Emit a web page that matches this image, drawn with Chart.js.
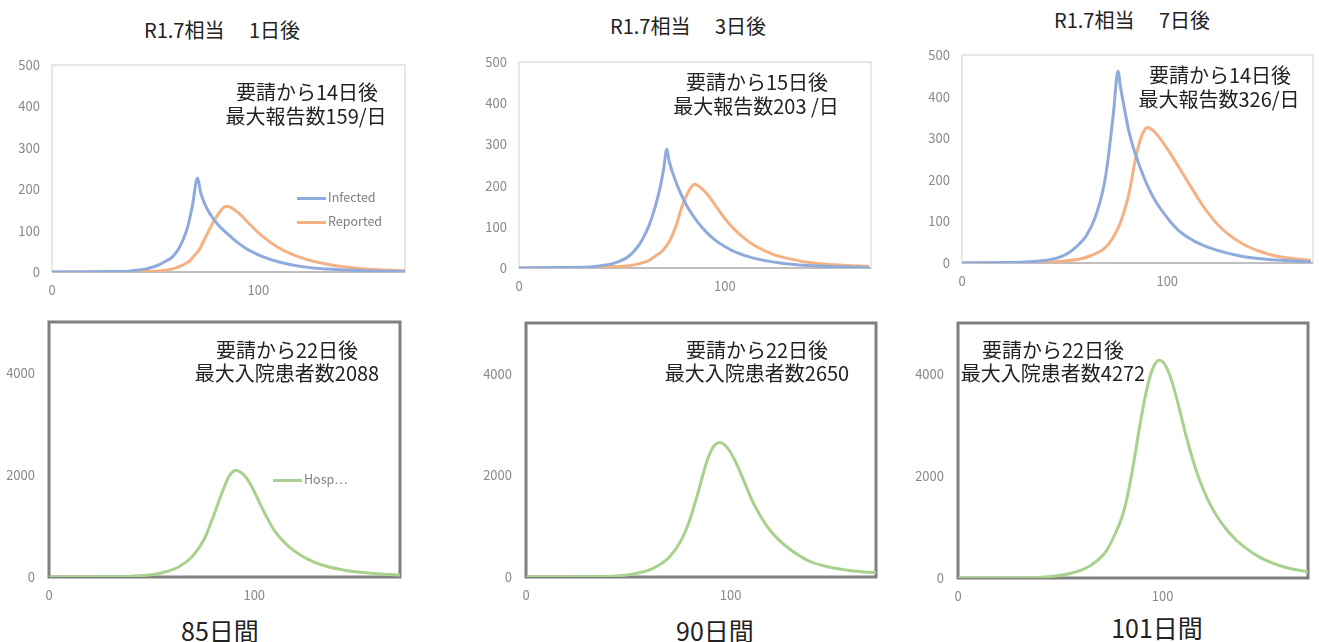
<!DOCTYPE html>
<html>
<head>
<meta charset="utf-8">
<script src="https://cdn.jsdelivr.net/npm/chart.js@4.4.1/dist/chart.umd.min.js"></script>
<style>
  body { margin: 0; width: 1319px; height: 642px; overflow: hidden; background: #fff;
         font-family: 'Noto Sans CJK JP', sans-serif; color: #222; }
  .box { position: absolute; }
  .txt { position: absolute; white-space: pre; transform: translate(-50%, -50%); line-height: 1; }
  .ttl { font-size: 20px; }
  .note { font-size: 20px; }
  .days { font-size: 25px; }
  .lg { position: absolute; font-size: 12.5px; color: #7f7f7f; white-space: pre; line-height: 1; }
  .lg i { display: inline-block; width: 29px; height: 3px; vertical-align: middle; margin-right: 2px; }
</style>
</head>
<body>

<div class="txt ttl" style="left:222px; top:30px;">R1.7相当　 1日後</div>
<div class="txt ttl" style="left:688px; top:26px;">R1.7相当　 3日後</div>
<div class="txt ttl" style="left:1132px; top:20px;">R1.7相当　 7日後</div>

<div class="box" id="b1"><canvas id="c1"></canvas></div>
<div class="box" id="b2"><canvas id="c2"></canvas></div>
<div class="box" id="b3"><canvas id="c3"></canvas></div>
<div class="box" id="b4"><canvas id="c4"></canvas></div>
<div class="box" id="b5"><canvas id="c5"></canvas></div>
<div class="box" id="b6"><canvas id="c6"></canvas></div>

<div class="txt note" style="left:307px; top:92px;">要請から14日後</div>
<div class="txt note" style="left:306px; top:116px;">最大報告数159/日</div>
<div class="txt note" style="left:757px; top:82px;">要請から15日後</div>
<div class="txt note" style="left:756px; top:106px;">最大報告数203 /日</div>
<div class="txt note" style="left:1220px; top:75px;">要請から14日後</div>
<div class="txt note" style="left:1219px; top:99px;">最大報告数326/日</div>

<div class="txt note" style="left:287px; top:350px;">要請から22日後</div>
<div class="txt note" style="left:287px; top:373px;">最大入院患者数2088</div>
<div class="txt note" style="left:757px; top:350px;">要請から22日後</div>
<div class="txt note" style="left:757px; top:373px;">最大入院患者数2650</div>
<div class="txt note" style="left:1053px; top:350px;">要請から22日後</div>
<div class="txt note" style="left:1053px; top:373px;">最大入院患者数4272</div>

<div class="lg" style="left:297px; top:191px;"><i style="background:#8faadc"></i>Infected</div>
<div class="lg" style="left:297px; top:215px;"><i style="background:#f4b183"></i>Reported</div>
<div class="lg" style="left:273px; top:473px;"><i style="background:#a9d18e"></i>Hosp…</div>

<div class="txt days" style="left:220px; top:630px;">85日間</div>
<div class="txt days" style="left:715px; top:630px;">90日間</div>
<div class="txt days" style="left:1157px; top:627px;">101日間</div>

<script>
// 1日後
const inf1Days = [0, 20, 30, 37, 41, 45, 49, 52, 55, 58, 60, 62, 64, 66, 68, 70.5, 72, 74.6, 77, 79.5, 82, 86, 90, 94, 98, 102, 110, 121, 134, 150, 171];
const inf1 = [0.2, 0.5, 1.2, 2, 4, 7, 12, 18, 26, 35, 46, 62, 84, 114, 160, 227, 192, 158, 137, 120, 106, 88, 71, 57, 46, 37, 24, 13, 7, 3, 1];
const rep1Days = [0, 30, 40, 50, 55, 60, 63, 66.5, 69, 71.4, 73, 75.4, 77.5, 79.5, 82, 84.5, 87, 90, 92.4, 96, 102, 110, 121, 134, 150, 171];
const rep1 = [0, 0.3, 0.8, 1.8, 4, 10, 16, 26, 40, 54, 70, 94, 115, 132, 150, 159, 155, 144, 133, 114, 86, 58, 34, 18, 8, 3];

// 3日後
const inf2Days = [0, 20, 34, 40.5, 45, 48.6, 52, 55, 58, 59.8, 63, 66.2, 68.6, 70.2, 71.8, 73, 75, 77, 79, 82.2, 87, 91, 95, 100, 104.6, 114, 127, 140, 155, 170];
const inf2 = [0.3, 1, 2.5, 6, 10, 16, 24, 36, 54, 68, 101, 149, 197, 238, 288, 258, 226, 199, 176, 145, 110, 87, 69, 52, 40, 24, 12, 6, 3, 1.5];
const rep2Days = [0, 30, 40.5, 47, 53.4, 58, 63, 66, 69.4, 71.5, 73.4, 75, 76.6, 79, 81.4, 83.5, 85.4, 88, 91.8, 95, 98.2, 102, 106, 110, 114, 124, 130, 140, 155, 170];
const rep2 = [0, 0.5, 2, 3.5, 5.6, 10, 18, 28, 40, 53, 68, 86, 107, 146, 176, 195, 203, 196, 177, 155, 132, 108, 87, 70, 56, 32, 24, 14, 7, 4];

// 7日後
const inf3Days = [0, 20, 32.9, 40, 45.7, 50, 53.8, 57, 60.2, 63, 65, 68.3, 70, 71.5, 73.9, 76, 77.3, 78.7, 81.2, 84.4, 89.2, 93, 97.2, 105.3, 113.4, 121.4, 137.5, 153.6, 170];
const inf3 = [0.3, 1, 3, 6, 11, 19, 31, 45, 63, 88, 111, 167, 210, 263, 367, 461, 420, 383, 319, 263, 199, 160, 127, 79, 52, 35, 15, 7, 3];
const rep3Days = [0, 30, 45.7, 52, 58.6, 63, 68.3, 71.5, 74.7, 76.8, 78.7, 80.5, 82, 84.4, 86.8, 88.5, 90.3, 92.5, 95, 97.2, 101, 105.3, 109, 113.4, 117, 121.4, 125, 129.5, 137.5, 145.6, 153.6, 170];
const rep3 = [0, 1, 3, 6, 11, 18, 31, 46, 71, 93, 119, 150, 183, 247, 295, 316, 326, 321, 309, 295, 267, 233, 203, 168, 140, 111, 90, 70, 44, 27, 16, 6];

// 入院
const hosp1Days = [0, 20, 30, 40.6, 48.8, 55.2, 63.3, 69.7, 75.4, 79.4, 83.4, 85.5, 87.4, 89.2, 91, 93, 95.5, 98, 100.3, 103, 106.8, 110, 113.2, 117, 121.3, 126, 132.5, 145.4, 161.5, 171];
const hosp1 = [0, 1.5, 5, 16, 39, 84, 202, 398, 725, 1117, 1560, 1780, 1950, 2050, 2088, 2065, 1980, 1830, 1650, 1420, 1120, 900, 740, 590, 460, 350, 240, 124, 59, 40];
const hosp2Days = [0, 20, 35, 45.9, 52.3, 62.1, 70.2, 75.9, 80, 82, 84, 86, 88, 90, 92, 94.3, 96.5, 99.5, 102, 104.4, 107.5, 110.9, 115, 119, 123, 127.2, 132, 138.5, 145, 151.6, 160, 171];
const hosp2 = [0, 1.5, 8, 26, 59, 171, 400, 729, 1123, 1380, 1650, 1950, 2230, 2450, 2590, 2650, 2620, 2480, 2300, 2090, 1790, 1470, 1170, 930, 750, 600, 460, 310, 225, 168, 120, 82];
const hosp3Days = [0, 20, 30, 40, 53, 64.4, 72.5, 77.4, 80, 82.3, 85.5, 88.8, 92, 95.3, 98.2, 100, 102, 104.3, 106.7, 109, 111.6, 115, 118, 122, 126.2, 131, 136, 147.3, 160.3, 171];
const hosp3 = [0, 1.5, 5, 15, 73, 236, 531, 924, 1180, 1515, 2180, 2980, 3660, 4120, 4272, 4240, 4120, 3880, 3540, 3180, 2760, 2280, 1920, 1540, 1230, 960, 740, 410, 205, 120];

const xTicks = [0, 100];
const topYTicks = [0, 100, 200, 300, 400, 500];
const hospYTicks = [0, 2000, 4000];

Chart.defaults.font.family = "'Noto Sans CJK JP', sans-serif";
Chart.defaults.font.size = 13;
Chart.defaults.color = '#898989';

const pts = (d, v) => d.map((x, i) => ({ x: x, y: v[i] }));

const frame = {
  id: 'frame',
  beforeDatasetsDraw(chart, args, opts) {
    const { ctx, chartArea: a } = chart;
    ctx.save();
    ctx.strokeStyle = opts.color;
    ctx.lineWidth = opts.width;
    ctx.strokeRect(a.left, a.top, a.right - a.left, a.bottom - a.top);
    if (opts.base) {
      ctx.strokeStyle = opts.base;
      ctx.lineWidth = 2;
      ctx.beginPath();
      ctx.moveTo(a.left, a.bottom);
      ctx.lineTo(a.right, a.bottom);
      ctx.stroke();
    }
    ctx.restore();
  }
};

function line(data, color) {
  return { data: data, borderColor: color, borderWidth: 3, pointRadius: 0,
           cubicInterpolationMode: 'monotone', fill: false };
}

function makeChart(n, l, t, r, b, datasets, yMax, yTicks, frameOpts, yPad) {
  const box = document.getElementById('b' + n);
  box.style.left = (l - 50) + 'px';
  box.style.top = (t - 10) + 'px';
  box.style.width = (r - l + 56) + 'px';
  box.style.height = (b - t + 40) + 'px';
  return new Chart(document.getElementById('c' + n), {
    type: 'line',
    data: { datasets: datasets },
    options: {
      responsive: true,
      maintainAspectRatio: false,
      animation: false,
      layout: { padding: { top: 10, right: 6, left: 0, bottom: 0 } },
      plugins: { legend: { display: false }, tooltip: { enabled: false }, frame: frameOpts },
      scales: {
        x: {
          type: 'linear', min: 0, max: 171,
          grid: { display: false, drawTicks: false }, border: { display: false },
          afterBuildTicks: s => { s.ticks = xTicks.map(v => ({ value: v })); },
          afterFit: s => { s.height = 30; s.paddingLeft = 0; s.paddingRight = 0; },
          ticks: { padding: 10, maxRotation: 0, callback: v => String(v) }
        },
        y: {
          min: 0, max: yMax,
          grid: { display: false, drawTicks: false }, border: { display: false },
          afterBuildTicks: s => { s.ticks = yTicks.map(v => ({ value: v })); },
          afterFit: s => { s.width = 50; s.paddingTop = 0; s.paddingBottom = 0; },
          ticks: { padding: yPad, callback: v => String(v) }
        }
      }
    },
    plugins: [frame]
  });
}

const blue = '#8faadc', orange = '#f4b183', green = '#a9d18e';
const thin = { color: '#d0d0d0', width: 1, base: '#bfbfbf' };
const thick = { color: '#7f7f7f', width: 3 };

makeChart(1, 52, 65, 405, 272, [line(pts(inf1Days, inf1), blue), line(pts(rep1Days, rep1), orange)], 500, topYTicks, thin, 12);
makeChart(2, 519, 62, 871, 268, [line(pts(inf2Days, inf2), blue), line(pts(rep2Days, rep2), orange)], 500, topYTicks, thin, 12);
makeChart(3, 962, 55, 1313, 263, [line(pts(inf3Days, inf3), blue), line(pts(rep3Days, rep3), orange)], 500, topYTicks, thin, 12);
makeChart(4, 49, 322, 400, 577, [line(pts(hosp1Days, hosp1), green)], 5000, hospYTicks, thick, 14);
makeChart(5, 526, 323, 876, 577, [line(pts(hosp2Days, hosp2), green)], 5000, hospYTicks, thick, 14);
makeChart(6, 958, 323, 1308, 578, [line(pts(hosp3Days, hosp3), green)], 5000, hospYTicks, thick, 14);
</script>
</body>
</html>
